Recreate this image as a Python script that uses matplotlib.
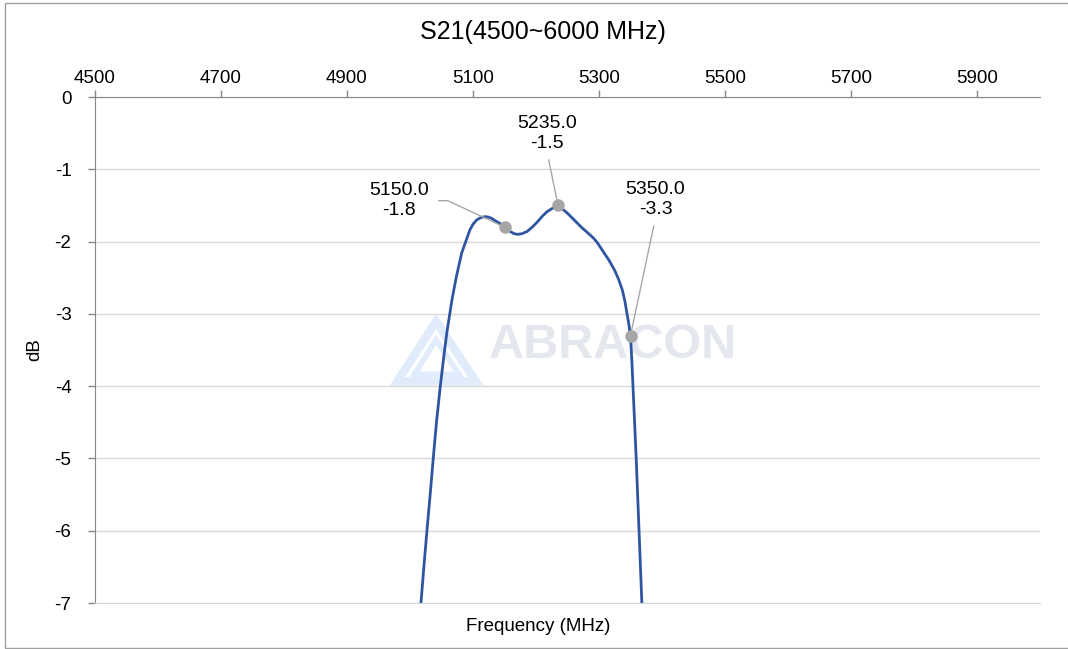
import matplotlib.pyplot as plt
from matplotlib.patches import Polygon, Rectangle

plt.rcParams['font.family'] = ['Liberation Sans', 'DejaVu Sans']
plt.rcParams['axes.unicode_minus'] = False

# S21 response (MHz, dB)
freq = [5013, 5017.5, 5022, 5027, 5032, 5037, 5042, 5048, 5053.5, 5058.5,
        5066.5, 5073.5, 5082, 5090.5, 5095, 5100, 5106, 5112, 5119,
        5124, 5130, 5135, 5143, 5151, 5159, 5165, 5171, 5178, 5186, 5194,
        5202, 5210, 5217, 5226, 5235, 5242, 5249, 5257, 5265, 5273, 5281,
        5286, 5291, 5297, 5306, 5316, 5325, 5331, 5337, 5341, 5344.5, 5347.5,
        5350, 5352, 5354, 5356.5, 5359, 5363.5, 5368, 5370]
s21 = [-7.5, -6.99, -6.5, -5.99, -5.5, -4.99, -4.5, -4.01, -3.60, -3.26,
       -2.81, -2.49, -2.16, -1.95, -1.84, -1.76, -1.70, -1.67, -1.655,
       -1.66, -1.68, -1.71, -1.75, -1.80, -1.86, -1.89, -1.90, -1.89, -1.86,
       -1.80, -1.73, -1.65, -1.59, -1.54, -1.52, -1.55, -1.60, -1.67, -1.74,
       -1.81, -1.87, -1.91, -1.95, -2.01, -2.13, -2.26, -2.40, -2.52, -2.67,
       -2.82, -3.0, -3.15, -3.32, -3.62, -4.01, -4.5, -4.99, -5.99, -6.99,
       -7.5]

# marked points
mark_f = [5150.0, 5235.0, 5350.0]
mark_db = [-1.8, -1.5, -3.3]

fig = plt.figure(figsize=(10.68, 6.49), dpi=100)
ax = fig.add_axes([95 / 1068, 1 - 603 / 649, 945 / 1068, 506 / 649])

# figure frame
fig.patches.append(Rectangle((5 / 1068, 0.002), 1.2, 0.994, transform=fig.transFigure,
                             fill=False, edgecolor='#a0a0a0', linewidth=1.0))

# watermark
ax.text(0.548, 0.508, 'ABRACON', transform=ax.transAxes, fontsize=35, fontweight='bold',
        color='#e4e7ee', ha='center', va='center', zorder=0)
logo_outer = [(0.320, 0.438), (0.361, 0.557), (0.403, 0.438)]
logo_inner = [(0.338, 0.452), (0.361, 0.520), (0.385, 0.452)]
ax.add_patch(Polygon(logo_outer, closed=True, transform=ax.transAxes, fill=False,
                     edgecolor='#e0ebfb', linewidth=6, zorder=0))
ax.add_patch(Polygon(logo_inner, closed=True, transform=ax.transAxes, fill=False,
                     edgecolor='#e0ebfb', linewidth=4, zorder=0))

ax.plot(freq, s21, color='#2f55a2', linewidth=2.0, zorder=3,
        solid_joinstyle='round')
ax.plot(mark_f, mark_db, 'o', color='#a6a6a6', markersize=8, zorder=4)

lbl = dict(textcoords='offset points', ha='center', va='center',
           fontsize=14, linespacing=1.2)
lead = dict(arrowstyle='-', color='#a6a6a6', lw=1, shrinkB=3)
ax.annotate('%.1f\n%.1f' % (mark_f[0], mark_db[0]), xy=(mark_f[0], mark_db[0]),
            xytext=(-76, 19), **lbl,
            arrowprops=dict(lead, shrinkA=5, relpos=(1, 0.5),
                            connectionstyle='angle,angleA=0,angleB=-25,rad=0'))
ax.annotate('%.1f\n%.1f' % (mark_f[1], mark_db[1]), xy=(mark_f[1], mark_db[1]),
            xytext=(-8, 52), **lbl,
            arrowprops=dict(lead, shrinkA=4, relpos=(0.5, 0)))
ax.annotate('%.1f\n%.1f' % (mark_f[2], mark_db[2]), xy=(mark_f[2], mark_db[2]),
            xytext=(18, 98), **lbl,
            arrowprops=dict(lead, shrinkA=4, relpos=(0.5, 0)))

ax.set_xlim(4500, 6000)
ax.set_ylim(-7, 0)
ax.set_xticks(range(4500, 6000, 200))
ax.set_yticks(range(-7, 1))
ax.xaxis.tick_top()
ax.xaxis.set_label_position('bottom')
ax.tick_params(axis='both', labelsize=13.5, colors='#888888', labelcolor='black',
               length=5, width=1)
ax.tick_params(axis='x', pad=2)
ax.tick_params(axis='y', pad=12)

ax.yaxis.grid(True, color='#d9d9d9', linewidth=1)
ax.set_axisbelow(True)
ax.spines['right'].set_visible(False)
ax.spines['bottom'].set_color('#d9d9d9')
for side in ['top', 'left']:
    ax.spines[side].set_color('#888888')

ax.set_xlabel('Frequency (MHz)', fontsize=13.5)
ax.xaxis.set_label_coords((538 - 95) / 945, -0.03)
ax.set_ylabel('dB', fontsize=13.5)
ax.yaxis.set_label_coords(-(95 - 43) / 945, 0.5)
fig.text(543 / 1068, 1 - 32 / 649, 'S21(4500~6000 MHz)', ha='center', va='center',
         fontsize=18)

fig.savefig('out.png', dpi=100)
